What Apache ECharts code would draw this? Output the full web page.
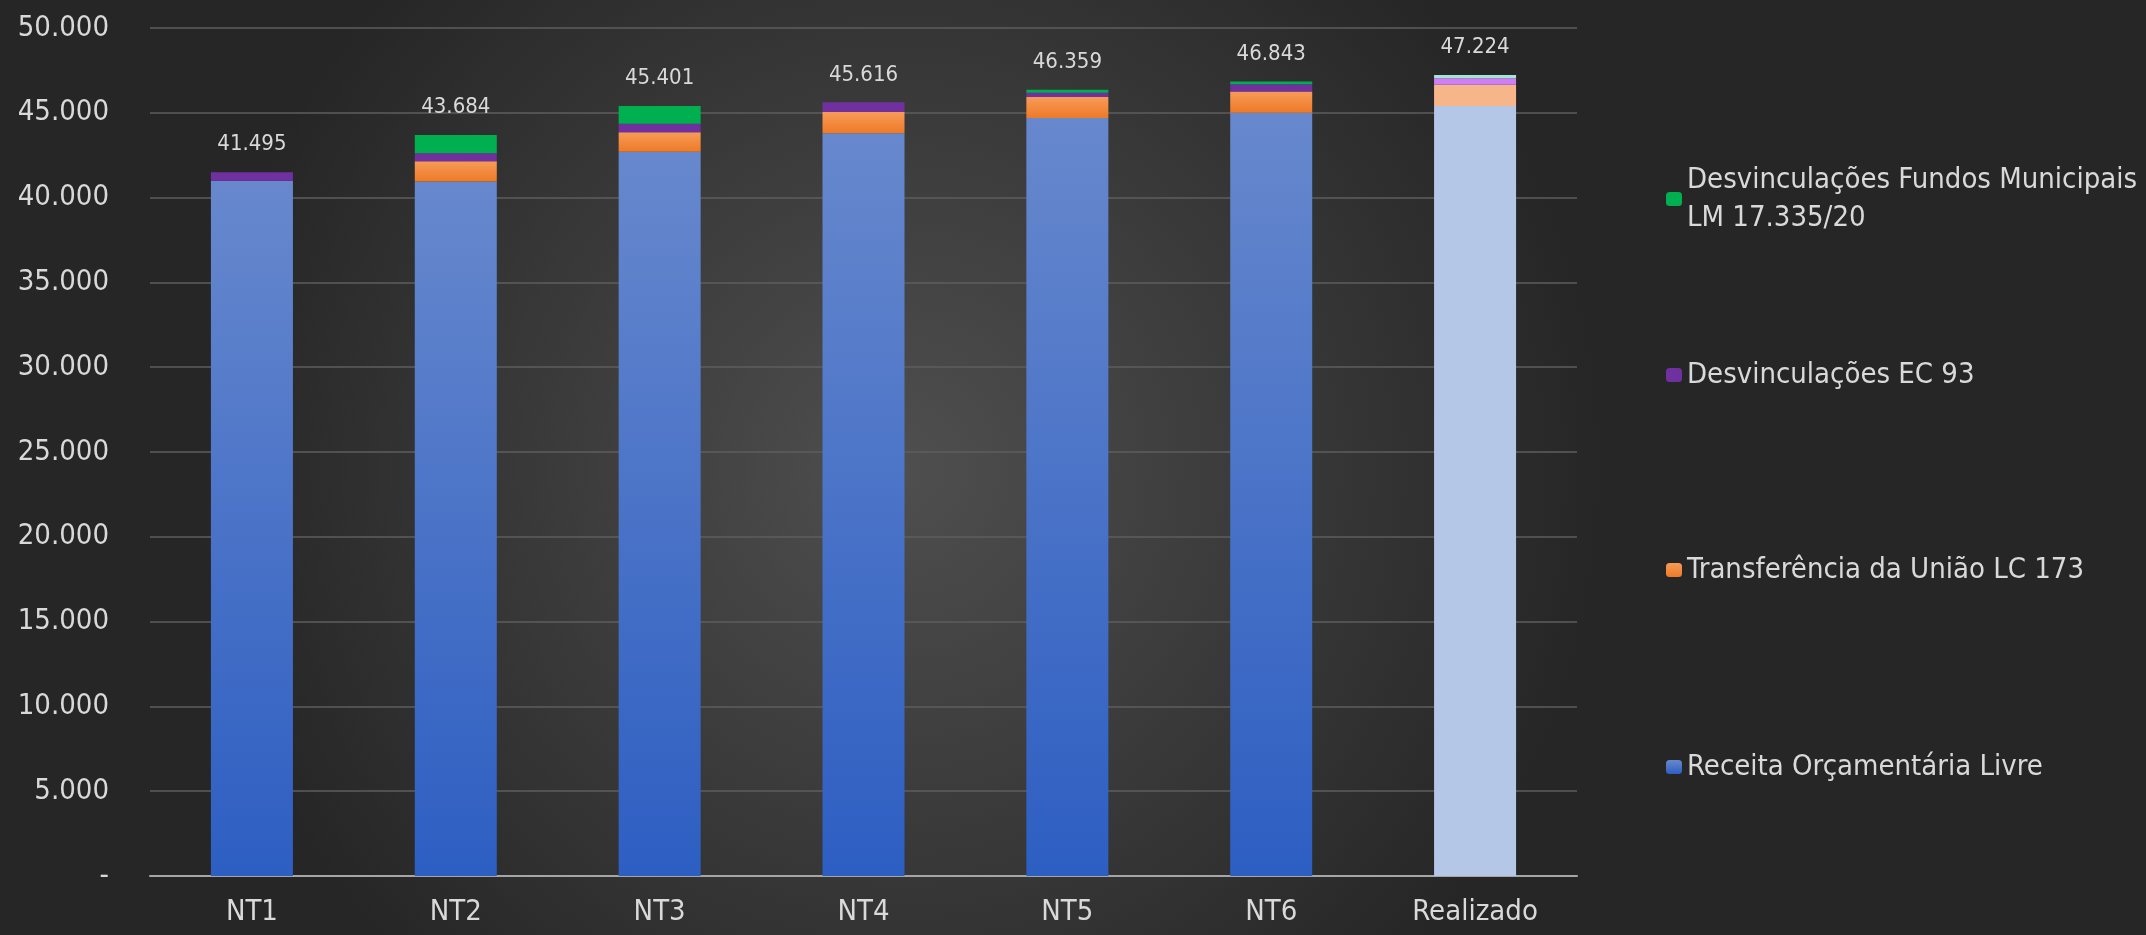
<!DOCTYPE html>
<html>
<head>
<meta charset="utf-8">
<title>Receita Livre</title>
<script src="https://cdn.jsdelivr.net/npm/echarts@6/dist/echarts.min.js"></script>
<style>
	html, body { margin: 0; padding: 0; background: #2a2a2a; }
	#barGraph { width: 2146px; height: 935px; }
</style>
</head>
<body>
<div id="barGraph"></div>
<script>
	// dados do gráfico
	var categorias = ['NT1', 'NT2', 'NT3', 'NT4', 'NT5', 'NT6', 'Realizado'];
	var receitaLivre = [41000, 40950, 42700, 43800, 44700, 45000, 45400];
	var transfUniao = [0, 1200, 1150, 1240, 1230, 1260, 1250];
	var desvEC93 = [495, 460, 500, 576, 250, 420, 380];
	var desvFundos = [0, 1074, 1051, 0, 179, 163, 194];
	var totais = [41495, 43684, 45401, 45616, 46359, 46843, 47224];
	var nomes = ['Receita Orçamentária Livre', 'Transferência da União LC 173', 'Desvinculações EC 93', 'Desvinculações Fundos Municipais LM 17.335/20'];

	var fonte = "'DejaVu Sans Condensed', 'DejaVu Sans', sans-serif";

	/**
	 * formata com ponto de milhar
	 */
	function fmt(v) {
		if (v === 0) return '-';
		return String(v).replace(/\B(?=(\d{3})+(?!\d))/g, '.');
	}

	function grad(top, bottom) {
		return new echarts.graphic.LinearGradient(0, 0, 0, 1, [
			{ offset: 0, color: top },
			{ offset: 1, color: bottom }
		]);
	}

	// último ponto (Realizado) com cor clara
	function serie(arr, corClara) {
		var out = [];
		for (var i = 0; i < arr.length; i++) {
			if (i == arr.length - 1) {
				out.push({ value: arr[i], itemStyle: { color: corClara } });
			} else {
				out.push(arr[i]);
			}
		}
		return out;
	}

	function legenda(nome, top) {
		return {
			show: true,
			orient: 'vertical',
			left: 1661,
			top: top,
			itemWidth: 16,
			itemHeight: 14,
			data: [nome],
			formatter: function (n) { return n.replace(' LM', '\nLM'); },
			textStyle: { color: '#d9d9d9', fontSize: 29, fontFamily: fonte, lineHeight: 38 }
		};
	}

	var dom = document.getElementById('barGraph');
	var myChart = echarts.init(dom);
	var option = {
		animation: false,
		backgroundColor: new echarts.graphic.RadialGradient(0.42, 0.5, 0.75, [
			{ offset: 0, color: '#4f4f4f' },
			{ offset: 1, color: '#262626' }
		]),
		legend: [
			legenda(nomes[3], 156),
			legenda(nomes[2], 351),
			legenda(nomes[1], 546),
			legenda(nomes[0], 743)
		],
		grid: {
			left: 150,
			right: 569,
			top: 28,
			bottom: 59
		},
		xAxis: {
			type: 'category',
			data: categorias,
			axisLine: { lineStyle: { color: '#a6a6a6', width: 2 } },
			axisTick: { show: false },
			axisLabel: { color: '#d9d9d9', fontSize: 29, fontFamily: fonte, margin: 22 }
		},
		yAxis: {
			type: 'value',
			min: 0,
			max: 50000,
			interval: 5000,
			axisLine: { show: false },
			axisTick: { show: false },
			axisLabel: { color: '#d9d9d9', fontSize: 29, fontFamily: fonte, margin: 41, formatter: fmt },
			splitLine: { lineStyle: { color: '#5e5e5e', width: 1.5 } }
		},
		series: [
			{
				name: nomes[0],
				type: 'bar',
				stack: 'total',
				barWidth: 82,
				itemStyle: { color: grad('#6788cd', '#2d5ec2') },
				data: serie(receitaLivre, '#b4c7e7')
			},
			{
				name: nomes[1],
				type: 'bar',
				stack: 'total',
				itemStyle: { color: grad('#f79b59', '#ee7a26') },
				data: serie(transfUniao, '#f6b68a')
			},
			{
				name: nomes[2],
				type: 'bar',
				stack: 'total',
				itemStyle: { color: '#7030a0' },
				data: serie(desvEC93, '#cf7ff5')
			},
			{
				name: nomes[3],
				type: 'bar',
				stack: 'total',
				itemStyle: { color: '#00b050' },
				data: serie(desvFundos, '#a6e3d6')
			},
			{
				name: 'Total',
				type: 'line',
				data: totais,
				symbol: 'circle',
				symbolSize: 1,
				itemStyle: { color: 'rgba(0,0,0,0)' },
				lineStyle: { opacity: 0 },
				label: {
					show: true,
					position: 'top',
					distance: 16,
					color: '#d9d9d9',
					fontSize: 22,
					fontFamily: fonte,
					formatter: function (p) { return fmt(p.value); }
				},
				z: 10
			}
		]
	};

	if (option && typeof option === "object") {
		myChart.setOption(option, true);
	}
</script>
</body>
</html>
